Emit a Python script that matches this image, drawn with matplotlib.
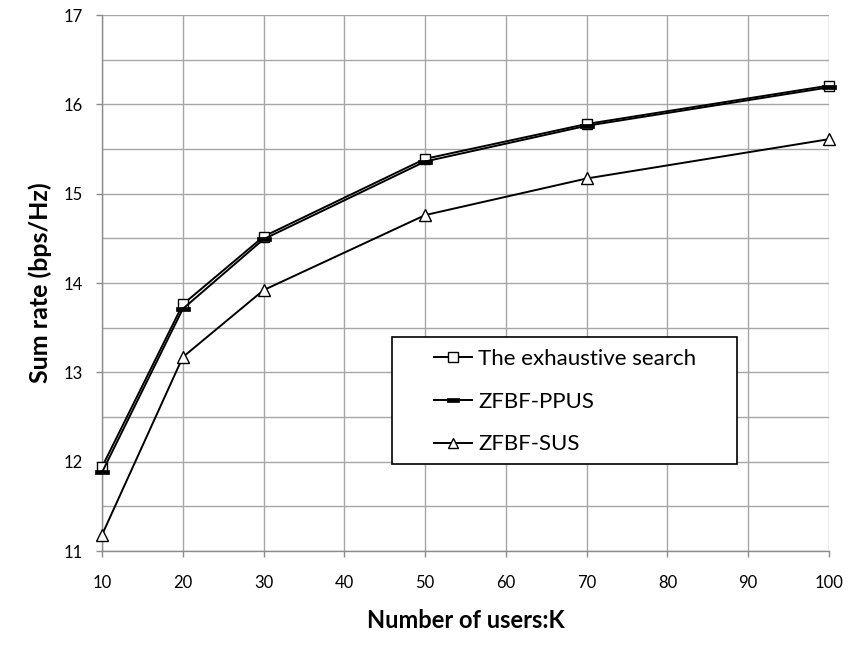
import matplotlib
matplotlib.use("Agg")
import matplotlib.pyplot as plt
from matplotlib.patches import Rectangle
from matplotlib.path import Path
from matplotlib.ticker import MultipleLocator

users = [10, 20, 30, 50, 70, 100]
exhaustive = [11.94, 13.76, 14.52, 15.39, 15.78, 16.21]
ppus = [11.88, 13.71, 14.49, 15.36, 15.76, 16.19]
sus = [11.18, 13.17, 13.92, 14.76, 15.17, 15.61]
labels = ["The exhaustive search", "ZFBF-PPUS", "ZFBF-SUS"]
xlabel = "Number of users:K"
ylabel = "Sum rate (bps/Hz)"

plt.rcParams['font.family'] = ['Lato', 'DejaVu Sans']

fig = plt.figure(figsize=(8.49, 6.48), dpi=100)
ax = fig.add_axes([102 / 849, 1 - 551 / 648, (829 - 102) / 849, (551 - 15) / 648])

dash = Path([(-0.5, -0.17), (0.5, -0.17), (0.5, 0.17), (-0.5, 0.17), (-0.5, -0.17)],
            [Path.MOVETO, Path.LINETO, Path.LINETO, Path.LINETO, Path.CLOSEPOLY])

l1, = ax.plot(users, exhaustive, color='black', lw=1.4, marker='s', ms=7.5,
              mfc='white', mec='black', mew=1.0, zorder=3, clip_on=False)
l2, = ax.plot(users, ppus, color='black', lw=1.4, marker=dash, ms=10,
              mfc='black', mec='black', mew=0.5, zorder=3, clip_on=False)
l3, = ax.plot(users, sus, color='black', lw=1.4, marker='^', ms=8,
              mfc='white', mec='black', mew=1.0, zorder=3, clip_on=False)

ax.set_xlim(10, 100)
ax.set_ylim(11, 17)
ax.xaxis.set_major_locator(MultipleLocator(10))
ax.yaxis.set_major_locator(MultipleLocator(1))
ax.yaxis.set_minor_locator(MultipleLocator(0.5))

gc = '#a6a6a6'
ax.grid(True, which='major', axis='both', color=gc, lw=1.0)
ax.grid(True, which='minor', axis='y', color=gc, lw=1.0)
ax.set_axisbelow(True)
for s in ['top', 'right']:
    ax.spines[s].set_visible(False)
for s in ['left', 'bottom']:
    ax.spines[s].set_color('#8c8c8c')
    ax.spines[s].set_linewidth(1.0)

ax.tick_params(axis='x', which='major', direction='out', length=4.5, width=1,
               color='#8c8c8c', labelsize=12, pad=13)
ax.tick_params(axis='y', which='major', direction='out', length=4.5, width=1,
               color='#8c8c8c', labelsize=12, pad=9.5)
ax.tick_params(axis='y', which='minor', length=0)

ax.set_xlabel(xlabel, fontsize=17, fontweight='bold', labelpad=13)
ax.set_ylabel(ylabel, fontsize=18, fontweight='bold', labelpad=8)

# legend frame
box = Rectangle((392 / 849, 1 - 464 / 648), (737 - 392) / 849, (464 - 337) / 648,
                transform=fig.transFigure, facecolor='white', edgecolor='black',
                lw=1.2, zorder=4, clip_on=False)
ax.add_patch(box)

leg = ax.legend([l1, l2, l3], labels, loc='upper left',
                bbox_to_anchor=(434 / 849, 1 - 349 / 648),
                bbox_transform=fig.transFigure, frameon=False,
                fontsize=16, handlelength=1.7, handletextpad=0.3,
                labelspacing=1.02, borderpad=0, borderaxespad=0, markerscale=0.9)
leg.set_zorder(5)

fig.savefig('out.png', dpi=100)
